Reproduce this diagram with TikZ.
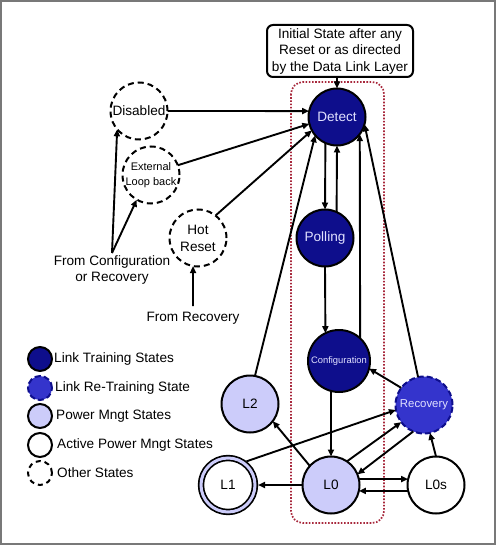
\documentclass[tikz,border=0pt]{standalone}
\usepackage{fontspec}
\setmainfont{Liberation Sans}
\usetikzlibrary{arrows.meta}
\definecolor{navyfill}{RGB}{14,14,140}
\definecolor{recfill}{RGB}{52,52,204}
\definecolor{lav}{RGB}{204,204,250}
\definecolor{lighttext}{RGB}{225,225,255}
\definecolor{dotred}{RGB}{168,40,60}
\definecolor{framegray}{RGB}{120,120,120}
\begin{document}
\begin{tikzpicture}[x=1pt,y=-1pt,
  every node/.style={font=\fontsize{13.6}{16.5}\selectfont},
  st/.style={circle,draw=black,line width=2pt,minimum size=57pt,inner sep=0pt,outer sep=0pt},
  train/.style={st,fill=navyfill,draw=black,text=lighttext},
  retrain/.style={st,fill=recfill,draw=navyfill,dash pattern=on 6pt off 3pt,text=lighttext},
  pwr/.style={st,fill=lav},
  act/.style={st,fill=white},
  other/.style={st,fill=white,dash pattern=on 6pt off 4pt},
  lgd/.style={minimum size=24pt},
  lgdtext/.style={anchor=west,inner sep=0pt},
  arr/.style={line width=1.9pt,-{Triangle[length=7pt,width=6pt]}},
  ]
\useasboundingbox (0,0) rectangle (496,545);
\fill[white] (0,0) rectangle (496,545);
\draw[framegray,line width=1.5pt] (1,1) rectangle (495,544);

% dotted region
\draw[dotred,line width=1.7pt,dash pattern=on 1.6pt off 1.6pt,rounded corners=12pt] (291,82) rectangle (384,523);

% initial state box
\node[draw=black,line width=2pt,fill=white,rounded corners=6pt,minimum width=146pt,minimum height=52pt,inner sep=2pt,align=center] (init) at (340,51) {Initial State after any\\Reset or as directed\\by the Data Link Layer};

% states
\node[train] (det) at (337,117) {Detect};
\node[train] (pol) at (325,238) {Polling};
\node[train,minimum size=62pt,font=\fontsize{9.4}{11}\selectfont] (cfg) at (339,361) {Configuration};
\node[retrain,font=\fontsize{11.4}{13}\selectfont] (rec) at (424,405) {Recovery};
\node[pwr] (l2) at (250,404) {L2};
\node[pwr] (l0) at (331,485) {L0};
\node[act] (l0s) at (436,485) {L0s};
\node[circle,draw=black,line width=1.7pt,double=lav,double distance=3pt,fill=white,minimum size=54pt,inner sep=0pt,outer sep=3pt] (l1) at (228,485) {L1};
\node[other] (dis) at (139,111) {Disabled};
\node[other,align=center,font=\fontsize{11}{15}\selectfont] (ext) at (151,175) {External\\Loop back};
\node[other,align=center,font=\fontsize{13.6}{17}\selectfont] (hr) at (198,238) {Hot\\Reset};

% free texts
\node[align=center,font=\fontsize{13.6}{15.5}\selectfont] (fcr) at (112,270) {From Configuration\\or Recovery};
\coordinate (fcrtop) at (112,253);
\node (frec) at (193,318) {From Recovery};
\coordinate (frectop) at (193,306);

% connectors
\draw[arr] (init.south -| det.north) -- (det.north);
\draw[arr] (dis.east) -- (det.168.5);
\draw[arr] (ext.20) -- (det.194);
\draw[arr] (hr.52) -- (det.208);
\draw[arr] (det.246) -- (pol.north);
\draw[arr] (pol.66) -- (det.south);
\draw[arr] (pol.south) -- (cfg.116);
\draw[arr] (cfg.47) -- (det.323);
\draw[arr] (l2.80) -- (det.220);
\draw[arr] (rec.102) -- (det.345);
\draw[arr] (cfg.255) -- (l0.north);
\draw[arr] (rec.143.5) -- (cfg.346);
\draw[arr] (l0.138) -- (l2.323);
\draw[arr] (l1.52) -- (rec.190);
\draw[arr] (l0.56) -- (rec.217);
\draw[arr] (rec.248) -- (l0.22);
\draw[arr] (l0.west) -- (l1.east);
\draw[arr] (l0.12) -- (l0s.168);
\draw[arr] (l0s.192) -- (l0.348);
\draw[arr] (l0s.north) -- (rec.282);
\draw[arr] (fcrtop) -- (dis.220);
\draw[arr] (fcrtop) -- (ext.240);
\draw[arr] (frectop) -- (hr.260);

% legend
\node[train,lgd] (k1) at (40,359) {};
\node[retrain,lgd] (k2) at (40,388) {};
\node[pwr,lgd] (k3) at (40,416) {};
\node[act,lgd] (k4) at (40,445) {};
\node[other,lgd,dash pattern=on 5pt off 4pt] (k5) at (40,473) {};
\node[lgdtext] (t1) at (54,359) {Link Training States};
\node[lgdtext] (t2) at (55,388) {Link Re-Training State};
\node[lgdtext] (t3) at (56,416) {Power Mngt States};
\node[lgdtext] (t4) at (57,445) {Active Power Mngt States};
\node[lgdtext] (t5) at (57,473) {Other States};
\end{tikzpicture}
\end{document}
